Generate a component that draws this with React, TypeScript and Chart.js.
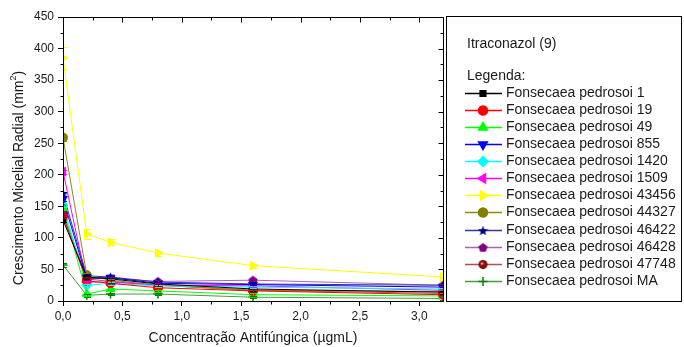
import { useEffect, useRef } from 'react';
import { Chart, registerables } from 'chart.js';
import { drawPoint } from 'chart.js/helpers';

Chart.register(...registerables);

// ---- Data ----
const concentrations = [0, 0.2, 0.4, 0.8, 1.6, 3.2];

const fp1 = [128, 38, 35, 27, 19, 14];
const fp19 = [134, 32, 28, 21, 16, 10];
const fp49 = [147, 11, 19, 16, 10, 8];
const fp855 = [162, 36, 37, 28, 26, 22];
const fp1420 = [152, 25, 28, 24, 22, 19];
const fp1509 = [205, 30, 30, 25, 24, 17];
const fp43456 = [385, 106, 93, 76, 56, 38];
const fp44327 = [259, 41, 33, 25, 17, 15];
const fp46422 = [170, 40, 38, 30, 27, 25];
const fp46428 = [140, 36, 36, 31, 33, 25];
const fp47748 = [136, 35, 31, 25, 17, 12];
const fpMA = [57, 9, 11, 11, 6, 4];

const err43456 = [18, 8, 5, 4, 3, 3];
const err44327 = [6, 3, 2, 2, 2, 2];
const errDefault = [3, 2, 2, 2, 2, 2];

const seriesLabels = [
  'Fonsecaea pedrosoi 1',
  'Fonsecaea pedrosoi 19',
  'Fonsecaea pedrosoi 49',
  'Fonsecaea pedrosoi 855',
  'Fonsecaea pedrosoi 1420',
  'Fonsecaea pedrosoi 1509',
  'Fonsecaea pedrosoi 43456',
  'Fonsecaea pedrosoi 44327',
  'Fonsecaea pedrosoi 46422',
  'Fonsecaea pedrosoi 46428',
  'Fonsecaea pedrosoi 47748',
  'Fonsecaea pedrosoi MA',
];
const seriesValues = [fp1, fp19, fp49, fp855, fp1420, fp1509, fp43456, fp44327, fp46422, fp46428, fp47748, fpMA];
const seriesErrors = [errDefault, errDefault, errDefault, errDefault, errDefault, errDefault, err43456, err44327, errDefault, errDefault, errDefault, errDefault];

const xTicksMajor = [0, 0.5, 1.0, 1.5, 2.0, 2.5, 3.0];
const legendTitle = 'Itraconazol (9)';
const legendSubtitle = 'Legenda:';
const xTitle = 'Concentração Antifúngica (µgmL)';
const yTitleMain = 'Crescimento Micelial Radial (mm';
const yTitleSup = '2';
const yTitleEnd = ')';

const FONT = '"Liberation Sans", Arial, sans-serif';
const TEXT = '#1a1a1a';

function makeMarker(kind: string, fill: string): HTMLCanvasElement {
  const c = document.createElement('canvas');
  const s = 11;
  c.width = s;
  c.height = s;
  const ctx = c.getContext('2d')!;
  const cx = s / 2, cy = s / 2;
  ctx.fillStyle = fill;
  ctx.beginPath();
  if (kind === 'star') {
    const R = 5.3, r = 2.3;
    for (let i = 0; i < 10; i++) {
      const a = -Math.PI / 2 + (i * Math.PI) / 5;
      const rad = i % 2 === 0 ? R : r;
      const px = cx + rad * Math.cos(a), py = cy + 0.5 + rad * Math.sin(a);
      if (i === 0) ctx.moveTo(px, py); else ctx.lineTo(px, py);
    }
    ctx.closePath();
    ctx.fill();
  } else if (kind === 'pentagon') {
    const R = 4.8;
    for (let i = 0; i < 5; i++) {
      const a = -Math.PI / 2 + (i * 2 * Math.PI) / 5;
      const px = cx + R * Math.cos(a), py = cy + 0.4 + R * Math.sin(a);
      if (i === 0) ctx.moveTo(px, py); else ctx.lineTo(px, py);
    }
    ctx.closePath();
    ctx.fill();
  } else if (kind === 'sphere') {
    const g = ctx.createRadialGradient(cx - 1.2, cy - 1.2, 0.3, cx, cy, 4.6);
    g.addColorStop(0, '#f0c0c0');
    g.addColorStop(0.35, '#a01010');
    g.addColorStop(1, '#700000');
    ctx.fillStyle = g;
    ctx.arc(cx, cy, 4.5, 0, Math.PI * 2);
    ctx.fill();
  }
  return c;
}

type Style = { line: string; point: string; pointStyle: any; rotation: number; radius: number };

function buildStyles(): Style[] {
  return [
    { line: '#000000', point: '#000000', pointStyle: 'rect', rotation: 0, radius: 4 },
    { line: '#ff0000', point: '#ff0000', pointStyle: 'circle', rotation: 0, radius: 4.5 },
    { line: '#00ff00', point: '#00ff00', pointStyle: 'triangle', rotation: 0, radius: 5 },
    { line: '#0000ff', point: '#0000ff', pointStyle: 'triangle', rotation: 180, radius: 5 },
    { line: '#00ffff', point: '#00ffff', pointStyle: 'rectRot', rotation: 0, radius: 5 },
    { line: '#ff00ff', point: '#ff00ff', pointStyle: 'triangle', rotation: -90, radius: 5 },
    { line: '#ffff00', point: '#ffff00', pointStyle: 'triangle', rotation: 90, radius: 5 },
    { line: '#8a8a1a', point: '#808000', pointStyle: 'circle', rotation: 0, radius: 4.5 },
    { line: '#3535a0', point: '#000080', pointStyle: makeMarker('star', '#000080'), rotation: 0, radius: 5 },
    { line: '#b060b0', point: '#800080', pointStyle: makeMarker('pentagon', '#800080'), rotation: 0, radius: 5 },
    { line: '#b05050', point: '#800000', pointStyle: makeMarker('sphere', '#800000'), rotation: 0, radius: 5 },
    { line: '#40a040', point: '#008000', pointStyle: 'cross', rotation: 0, radius: 4.5 },
  ];
}

const frame = {
  id: 'frameAndExtras',
  afterDatasetsDraw(chart: any) {
    const ctx = chart.ctx as CanvasRenderingContext2D;
    // error bars
    chart.data.datasets.forEach((ds: any, di: number) => {
      const meta = chart.getDatasetMeta(di);
      const errs = seriesErrors[di];
      const ys = chart.scales.y;
      const area = chart.chartArea;
      ctx.save();
      ctx.beginPath();
      ctx.rect(area.left, area.top, area.right - area.left, area.bottom - area.top);
      ctx.clip();
      ctx.strokeStyle = ds.pointBackgroundColor;
      ctx.lineWidth = 1;
      meta.data.forEach((pt: any, i: number) => {
        const v = seriesValues[di][i];
        const e = errs[i];
        const y1 = ys.getPixelForValue(v + e);
        const y2 = ys.getPixelForValue(v - e);
        const x = Math.round(pt.x) + 0.5;
        ctx.beginPath();
        ctx.moveTo(x, y1);
        ctx.lineTo(x, y2);
        ctx.moveTo(x - 3.5, Math.round(y1) + 0.5);
        ctx.lineTo(x + 3.5, Math.round(y1) + 0.5);
        ctx.moveTo(x - 3.5, Math.round(y2) + 0.5);
        ctx.lineTo(x + 3.5, Math.round(y2) + 0.5);
        ctx.stroke();
      });
      ctx.restore();
    });
  },
  afterDraw(chart: any) {
    const ctx = chart.ctx as CanvasRenderingContext2D;
    const { left, right, top, bottom } = chart.chartArea;
    const xs = chart.scales.x;
    const ys = chart.scales.y;
    ctx.save();
    ctx.strokeStyle = '#000';
    ctx.lineWidth = 1;
    // left/bottom axis lines redrawn over clipped markers
    ctx.beginPath();
    ctx.moveTo(Math.round(left) + 0.5, top);
    ctx.lineTo(Math.round(left) + 0.5, Math.round(bottom) + 0.5);
    ctx.lineTo(right, Math.round(bottom) + 0.5);
    ctx.stroke();
    // top & right border
    ctx.beginPath();
    ctx.moveTo(left, Math.round(top) + 0.5);
    ctx.lineTo(Math.round(right) + 0.5, Math.round(top) + 0.5);
    ctx.lineTo(Math.round(right) + 0.5, bottom);
    ctx.stroke();
    // ticks
    ctx.beginPath();
    const yb = Math.round(bottom) + 0.5;
    const yt = Math.round(top) + 0.5;
    const xl = Math.round(left) + 0.5;
    const xr = Math.round(right) + 0.5;
    for (let v = 0.25; v < 3.2; v += 0.5) {
      const px = Math.round(xs.getPixelForValue(v)) + 0.5;
      ctx.moveTo(px, yb); ctx.lineTo(px, yb + 3);
      ctx.moveTo(px, yt); ctx.lineTo(px, yt + 3);
    }
    xTicksMajor.forEach((v) => {
      const px = Math.round(xs.getPixelForValue(v)) + 0.5;
      ctx.moveTo(px, yt); ctx.lineTo(px, yt + 5);
    });
    for (let v = 25; v < 450; v += 50) {
      const py = Math.round(ys.getPixelForValue(v)) + 0.5;
      ctx.moveTo(xl, py); ctx.lineTo(xl - 3, py);
      ctx.moveTo(xr, py); ctx.lineTo(xr - 3, py);
    }
    for (let v = 0; v <= 450; v += 50) {
      const py = Math.round(ys.getPixelForValue(v)) + 0.5;
      ctx.moveTo(xr, py); ctx.lineTo(xr - 5, py);
    }
    ctx.stroke();

    // axis titles
    ctx.fillStyle = TEXT;
    ctx.font = `14px ${FONT}`;
    ctx.textAlign = 'center';
    ctx.textBaseline = 'middle';
    ctx.fillText(xTitle, (left + right) / 2, 338);

    ctx.save();
    ctx.translate(19, 178);
    ctx.rotate(-Math.PI / 2);
    ctx.font = `14px ${FONT}`;
    const wMain = ctx.measureText(yTitleMain).width;
    ctx.font = `9px ${FONT}`;
    const wSup = ctx.measureText(yTitleSup).width;
    ctx.font = `14px ${FONT}`;
    const wEnd = ctx.measureText(yTitleEnd).width;
    const total = wMain + wSup + wEnd;
    let x0 = -total / 2;
    ctx.textAlign = 'left';
    ctx.fillText(yTitleMain, x0, 0);
    x0 += wMain;
    ctx.font = `9px ${FONT}`;
    ctx.fillText(yTitleSup, x0, -5);
    x0 += wSup;
    ctx.font = `14px ${FONT}`;
    ctx.fillText(yTitleEnd, x0, 0);
    ctx.restore();

    // legend box
    ctx.strokeStyle = '#000';
    ctx.lineWidth = 1;
    ctx.strokeRect(446.5, 16.5, 235, 285);
    ctx.fillStyle = TEXT;
    ctx.textAlign = 'left';
    ctx.textBaseline = 'middle';
    ctx.font = `14px ${FONT}`;
    ctx.fillText(legendTitle, 467, 44);
    ctx.fillText(legendSubtitle, 467, 76);
    chart.data.datasets.forEach((ds: any, i: number) => {
      const y = Math.round(92.6 + i * 17.12) + 0.5;
      ctx.strokeStyle = ds.borderColor;
      ctx.lineWidth = 1.5;
      ctx.beginPath();
      ctx.moveTo(465, y);
      ctx.lineTo(502, y);
      ctx.stroke();
      ctx.fillStyle = ds.pointBackgroundColor;
      ctx.strokeStyle = ds.pointBorderColor;
      drawPoint(ctx, { pointStyle: ds.pointStyle, rotation: ds.pointRotation, radius: ds.pointRadius, borderWidth: ds.pointStyle === 'cross' ? 1.5 : 1 }, 483, y);
      ctx.fillStyle = TEXT;
      ctx.font = `14px ${FONT}`;
      ctx.fillText(ds.label, 506, y);
    });
    ctx.restore();
  },
};

export default function App() {
  const ref = useRef<HTMLCanvasElement>(null);
  useEffect(() => {
    document.body.style.margin = '0';
    const styles = buildStyles();
    Chart.defaults.font.family = FONT;
    const datasets = seriesLabels.map((label, i) => ({
      label,
      data: seriesValues[i].map((y, j) => ({ x: concentrations[j], y })),
      borderColor: styles[i].line,
      backgroundColor: styles[i].point,
      pointBackgroundColor: styles[i].point,
      pointBorderColor: styles[i].point,
      pointStyle: styles[i].pointStyle,
      pointRotation: styles[i].rotation,
      pointRadius: styles[i].radius,
      pointBorderWidth: styles[i].pointStyle === 'cross' ? 1.5 : 1,
      borderWidth: 1,
      tension: 0,
      showLine: true,
      clip: 0,
    }));
    const chart = new Chart(ref.current!, {
      type: 'line',
      data: { datasets },
      options: {
        animation: false,
        responsive: false,
        devicePixelRatio: 1,
        layout: { padding: { left: 0, top: 17, right: 241, bottom: 0 } },
        plugins: { legend: { display: false }, tooltip: { enabled: false }, title: { display: false } },
        scales: {
          x: {
            type: 'linear',
            min: 0,
            max: 3.2,
            grid: { display: true, drawOnChartArea: false, drawTicks: true, tickLength: 5, color: '#000' },
            border: { display: true, color: '#000', width: 1 },
            ticks: {
              stepSize: 0.5,
              includeBounds: false,
              padding: 3,
              color: TEXT,
              font: { size: 12, family: FONT },
              maxRotation: 0,
              callback: (v: any) => Number(v).toFixed(1).replace('.', ','),
            },
            afterFit: (s: any) => { s.height = 46; },
          },
          y: {
            type: 'linear',
            min: 0,
            max: 450,
            grid: { display: true, drawOnChartArea: false, drawTicks: true, tickLength: 5, color: '#000' },
            border: { display: true, color: '#000', width: 1 },
            ticks: {
              stepSize: 50,
              padding: 4,
              color: TEXT,
              font: { size: 12, family: FONT },
            },
            afterFit: (s: any) => { s.width = 63; },
          },
        },
      },
      plugins: [frame],
    });
    return () => chart.destroy();
  }, []);
  return (
    <div style={{ width: 684, height: 347, background: '#fff' }}>
      <canvas ref={ref} width={684} height={347} style={{ display: 'block' }} />
    </div>
  );
}
